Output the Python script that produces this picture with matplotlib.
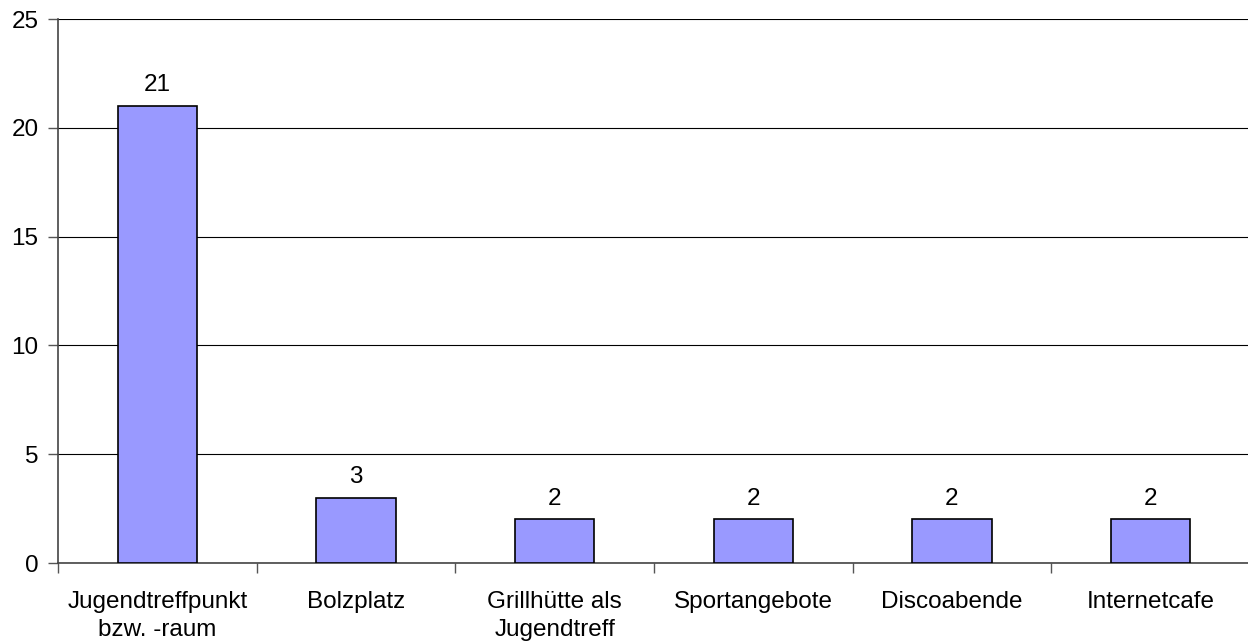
import matplotlib
matplotlib.use("Agg")
import matplotlib.pyplot as plt
import numpy as np

categories = ["Jugendtreffpunkt\nbzw. -raum", "Bolzplatz", "Grillhütte als\nJugendtreff",
              "Sportangebote", "Discoabende", "Internetcafe"]
values = [21, 3, 2, 2, 2, 2]
yticks = [0, 5, 10, 15, 20, 25]

plt.rcParams['font.family'] = ['Liberation Sans', 'DejaVu Sans']
FS = 17.5

fig = plt.figure(figsize=(12.48, 6.44), dpi=100)
ax = fig.add_axes([58/1248, 81/644, 1192/1248, 544/644])

x = np.arange(len(categories))
bars = ax.bar(x, values, width=0.4, color='#9999FF', edgecolor='black', linewidth=1.2, zorder=3)
for xi, v in zip(x, values):
    ax.annotate(str(v), (xi, v), xytext=(0, 7), textcoords='offset points',
                ha='center', va='bottom', fontsize=FS)

ax.set_xlim(-0.5, len(categories) - 0.5)
ax.set_ylim(0, 25)
ax.set_yticks(yticks)
ax.set_yticklabels([str(t) for t in yticks], fontsize=FS)
ax.yaxis.grid(True, color='black', linewidth=0.8, zorder=0)
ax.set_axisbelow(True)

ax.set_xticks(x)
ax.set_xticklabels(categories, fontsize=FS, linespacing=1.38)
ax.tick_params(axis='x', length=0, pad=20)
ax.set_xticks(np.arange(-0.5, len(categories) - 0.5, 1), minor=True)
ax.tick_params(axis='x', which='minor', length=7, width=1, color='#555555', direction='out')
ax.tick_params(axis='y', length=7, width=1, color='#555555', direction='out', pad=7)

for s in ['top', 'right']:
    ax.spines[s].set_visible(False)
for s in ['left', 'bottom']:
    ax.spines[s].set_color('#444444')
    ax.spines[s].set_linewidth(1.2)

fig.savefig('out.png', dpi=100)
